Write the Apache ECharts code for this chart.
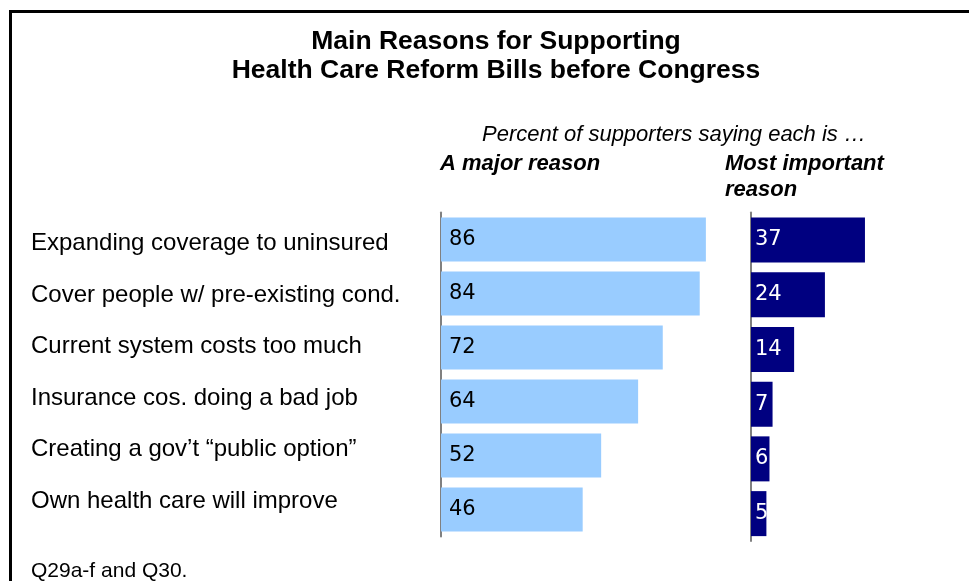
<!DOCTYPE html>
<html><head><meta charset="utf-8">
<script src="https://cdn.jsdelivr.net/npm/echarts@6/dist/echarts.min.js"></script>
<style>html,body{margin:0;padding:0;background:#fff}#c{width:969px;height:581px}</style>
</head><body><div id="c"></div>
<script>
const categories = [
  'Expanding coverage to uninsured',
  'Cover people w/ pre-existing cond.',
  'Current system costs too much',
  'Insurance cos. doing a bad job',
  'Creating a gov\u2019t \u201cpublic option\u201d',
  'Own health care will improve'
];
const majorReason = [86, 84, 72, 64, 52, 46];
const mostImportant = [37, 24, 14, 7, 6, 5];

const chart = echarts.init(document.getElementById('c'), null, {renderer: 'canvas'});
const font = 'Liberation Sans, Arial, sans-serif';
const numFont = 'DejaVu Sans, sans-serif';

chart.setOption({
  animation: false,
  backgroundColor: '#fff',
  title: [
    {text: 'Main Reasons for Supporting\nHealth Care Reform Bills before Congress', left: 496, top: 27, textAlign: 'center', padding: 0,
     textStyle: {fontFamily: font, fontSize: 26.5, fontWeight: 'bold', color: '#000', lineHeight: 29}},
    {text: 'Percent of supporters saying each is \u2026', left: 482, top: 122.5, padding: 0,
     textStyle: {fontFamily: font, fontSize: 22, fontStyle: 'italic', fontWeight: 'normal', color: '#000', lineHeight: 24}},
    {text: 'A major reason', left: 440, top: 151.5, padding: 0,
     textStyle: {fontFamily: font, fontSize: 22, fontStyle: 'italic', fontWeight: 'bold', color: '#000', lineHeight: 24}},
    {text: 'Most important\nreason', left: 725, top: 150.5, padding: 0,
     textStyle: {fontFamily: font, fontSize: 22, fontStyle: 'italic', fontWeight: 'bold', color: '#000', lineHeight: 26}},
    {text: 'Q29a-f and Q30.', left: 31, top: 560.5, padding: 0,
     textStyle: {fontFamily: font, fontSize: 21, fontWeight: 'normal', color: '#000', lineHeight: 22}}
  ],
  graphic: [
    {type: 'polyline', shape: {points: [[10.5, 581], [10.5, 11.5], [969, 11.5]]},
     style: {stroke: '#000', lineWidth: 3, fill: null}}
  ],
  grid: [
    {left: 441, top: 212.5, width: 308, height: 324},
    {left: 751, top: 212.5, width: 154, height: 328.5},
    {left: 441, top: 218, width: 100, height: 309}
  ],
  xAxis: [
    {type: 'value', gridIndex: 0, min: 0, max: 100, show: false},
    {type: 'value', gridIndex: 1, min: 0, max: 50, show: false},
    {type: 'value', gridIndex: 2, min: 0, max: 100, show: false}
  ],
  yAxis: [
    {type: 'category', gridIndex: 0, data: categories, inverse: true,
     axisLine: {show: true, lineStyle: {color: '#808080', width: 2}}, axisTick: {show: false}, axisLabel: {show: false}, splitLine: {show: false}},
    {type: 'category', gridIndex: 1, data: categories, inverse: true,
     axisLine: {show: true, lineStyle: {color: '#808080', width: 2}}, axisTick: {show: false}, axisLabel: {show: false}, splitLine: {show: false}},
    {type: 'category', gridIndex: 2, data: categories, inverse: true,
     axisLine: {show: false}, axisTick: {show: false}, splitLine: {show: false},
     axisLabel: {show: true, align: 'left', margin: 410, fontFamily: font, fontSize: 24, color: '#000'}}
  ],
  series: [
    {type: 'bar', xAxisIndex: 0, yAxisIndex: 0, data: majorReason, barWidth: 44,
     itemStyle: {color: '#99CCFF'},
     label: {show: true, position: 'insideLeft', distance: 8, color: '#000', fontFamily: numFont, fontSize: 21}},
    {type: 'bar', xAxisIndex: 1, yAxisIndex: 1, data: mostImportant, barWidth: 45,
     itemStyle: {color: '#000080'},
     label: {show: true, position: 'insideLeft', distance: 4, color: '#fff', fontFamily: numFont, fontSize: 21}}
  ]
});
</script>
</body></html>
